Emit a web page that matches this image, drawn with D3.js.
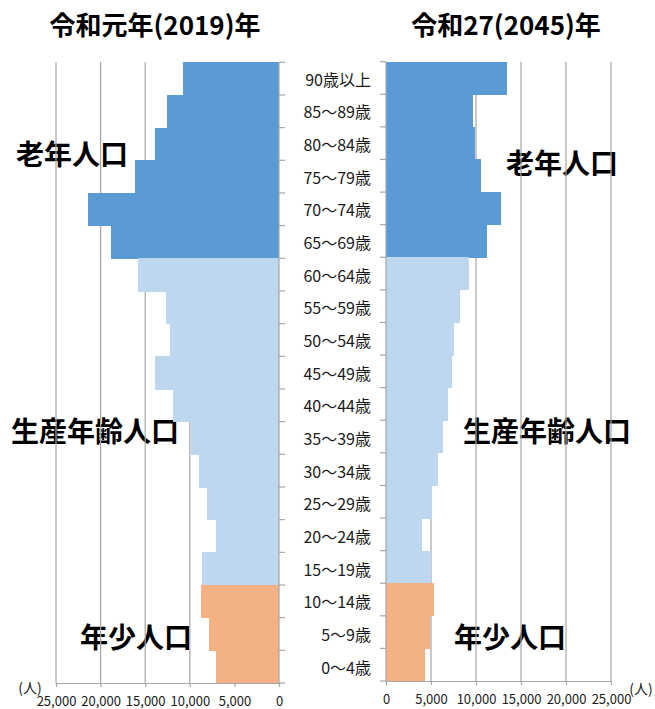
<!DOCTYPE html>
<html lang="ja">
<head>
  <meta charset="UTF-8">
  <title>人口ピラミッド</title>
  <script src="https://d3js.org/d3.v7.min.js"></script>
  <style>
    body { margin: 0; background: #fff; }
    text { font-family: "Noto Sans CJK JP", sans-serif; }
  </style>
</head>
<body>
  <script>
    // 年齢階級（上から下）
    const ages = ["90歳以上", "85～89歳", "80～84歳", "75～79歳", "70～74歳", "65～69歳",
      "60～64歳", "55～59歳", "50～54歳", "45～49歳", "40～44歳", "35～39歳",
      "30～34歳", "25～29歳", "20～24歳", "15～19歳", "10～14歳", "5～9歳", "0～4歳"];
    const groups = ["old", "old", "old", "old", "old", "old",
      "work", "work", "work", "work", "work", "work", "work", "work", "work", "work",
      "young", "young", "young"];
    const pop2019 = [10800, 12600, 13900, 16100, 21400, 18800, 15800, 12700, 12200, 13900,
      11850, 9850, 8950, 8050, 7050, 8600, 8700, 7800, 7050];
    const pop2045 = [13400, 9650, 9900, 10500, 12800, 11200, 9250, 8200, 7550, 7350,
      6900, 6350, 5800, 5100, 4000, 5000, 5350, 4900, 4350];
    const xTicks = [0, 5000, 10000, 15000, 20000, 25000];
    const groupLabels = ["老年人口", "生産年齢人口", "年少人口"];

    const width = 655, height = 709;
    const colors = { old: "#5b9bd5", work: "#bdd7ee", young: "#f4b183" };
    const gridColor = "#a6a6a6";

    const svg = d3.select("body").append("svg")
      .attr("width", width)
      .attr("height", height);

    // スケール
    const xL = d3.scaleLinear().domain([0, 25000]).range([279, 56]);
    const yL = d3.scaleBand().domain(ages).range([62.3, 683]);
    const xR = d3.scaleLinear().domain([0, 25000]).range([386, 611]);
    const yR = d3.scaleBand().domain(ages).range([61.7, 681]);

    // タイトル
    svg.append("text").attr("x", 155).attr("y", 23)
      .attr("text-anchor", "middle").attr("dominant-baseline", "central")
      .attr("font-size", 26).attr("font-weight", "bold")
      .text("令和元年(2019)年");
    svg.append("text").attr("x", 506).attr("y", 23)
      .attr("text-anchor", "middle").attr("dominant-baseline", "central")
      .attr("font-size", 26).attr("font-weight", "bold")
      .text("令和27(2045)年");

    // 区分ラベル
    const annot = [
      { t: groupLabels[0], x: 72, y: 153 }, { t: groupLabels[0], x: 562, y: 162 },
      { t: groupLabels[1], x: 95, y: 430 }, { t: groupLabels[1], x: 547, y: 430 },
      { t: groupLabels[2], x: 136, y: 636 }, { t: groupLabels[2], x: 510, y: 636 }
    ];
    svg.selectAll("text.annot").data(annot).enter().append("text")
      .attr("class", "annot")
      .attr("x", d => d.x).attr("y", d => d.y)
      .attr("text-anchor", "middle").attr("dominant-baseline", "central")
      .attr("font-size", 28).attr("font-weight", "bold")
      .text(d => d.t);

    // グリッド線
    svg.selectAll("line.gl").data(xTicks.slice(1)).enter().append("line")
      .attr("x1", d => xL(d)).attr("x2", d => xL(d))
      .attr("y1", yL.range()[0]).attr("y2", yL.range()[1])
      .attr("stroke", gridColor).attr("stroke-width", 1.2);
    svg.selectAll("line.gr").data(xTicks.slice(1)).enter().append("line")
      .attr("x1", d => xR(d)).attr("x2", d => xR(d))
      .attr("y1", yR.range()[0]).attr("y2", yR.range()[1])
      .attr("stroke", gridColor).attr("stroke-width", 1.2);

    // 棒
    svg.selectAll("rect.l").data(pop2019).enter().append("rect")
      .attr("x", d => xL(d)).attr("width", d => xL(0) - xL(d))
      .attr("y", (d, i) => yL(ages[i])).attr("height", yL.bandwidth() + 0.6)
      .attr("shape-rendering", "crispEdges")
      .attr("fill", (d, i) => colors[groups[i]]);
    svg.selectAll("rect.r").data(pop2045).enter().append("rect")
      .attr("x", xR(0)).attr("width", d => xR(d) - xR(0))
      .attr("y", (d, i) => yR(ages[i])).attr("height", yR.bandwidth() + 0.6)
      .attr("shape-rendering", "crispEdges")
      .attr("fill", (d, i) => colors[groups[i]]);

    // 縦軸
    const bounds = d3.range(ages.length + 1);
    svg.append("line").attr("x1", xL(0)).attr("x2", xL(0))
      .attr("y1", yL.range()[0]).attr("y2", yL.range()[1])
      .attr("stroke", gridColor).attr("stroke-width", 1.2);
    svg.selectAll("line.tl").data(bounds).enter().append("line")
      .attr("x1", xL(0)).attr("x2", xL(0) + 6)
      .attr("y1", i => yL.range()[0] + i * yL.step()).attr("y2", i => yL.range()[0] + i * yL.step())
      .attr("stroke", gridColor).attr("stroke-width", 1.2);
    svg.append("line").attr("x1", xR(0)).attr("x2", xR(0))
      .attr("y1", yR.range()[0]).attr("y2", yR.range()[1])
      .attr("stroke", gridColor).attr("stroke-width", 1.2);
    svg.selectAll("line.tr").data(bounds).enter().append("line")
      .attr("x1", xR(0) - 6).attr("x2", xR(0))
      .attr("y1", i => yR.range()[0] + i * yR.step()).attr("y2", i => yR.range()[0] + i * yR.step())
      .attr("stroke", gridColor).attr("stroke-width", 1.2);

    // 年齢ラベル
    svg.selectAll("text.age").data(ages).enter().append("text")
      .attr("x", 371).attr("y", d => yL(d) + yL.bandwidth() / 2)
      .attr("text-anchor", "end").attr("dominant-baseline", "central")
      .attr("font-size", 16).attr("fill", "#1a1a1a")
      .text(d => d);

    // 横軸
    const fmt = d3.format(",");
    const axisL = svg.append("g").attr("transform", `translate(0,${yL.range()[1]})`)
      .call(d3.axisBottom(xL).tickValues(xTicks).tickFormat(fmt).tickSizeInner(4).tickSizeOuter(0));
    const axisR = svg.append("g").attr("transform", `translate(0,${yR.range()[1]})`)
      .call(d3.axisBottom(xR).tickValues(xTicks).tickFormat(fmt).tickSizeInner(4).tickSizeOuter(0));
    [axisL, axisR].forEach(a => {
      a.select(".domain").attr("stroke", gridColor).attr("stroke-width", 1.2);
      a.selectAll(".tick line").attr("stroke", gridColor).attr("stroke-width", 1.2);
      a.selectAll(".tick text").attr("font-family", "'Noto Sans CJK JP', sans-serif")
        .attr("font-size", 13).attr("fill", "#1a1a1a").attr("y", 14);
    });

    // 単位
    svg.append("text").attr("x", 30).attr("y", 687)
      .attr("text-anchor", "middle").attr("dominant-baseline", "central")
      .attr("font-size", 14).attr("fill", "#1a1a1a").text("(人)");
    svg.append("text").attr("x", 641).attr("y", 688)
      .attr("text-anchor", "middle").attr("dominant-baseline", "central")
      .attr("font-size", 14).attr("fill", "#1a1a1a").text("(人)");
  </script>
</body>
</html>
